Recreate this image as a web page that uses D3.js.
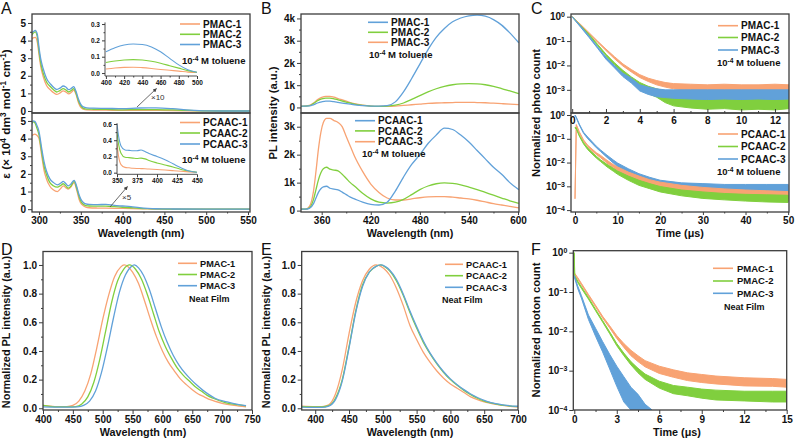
<!DOCTYPE html>
<html><head><meta charset="utf-8">
<script src="https://cdn.jsdelivr.net/npm/d3@7"></script>
<style>body{margin:0;background:#fff}svg text{font-family:"Liberation Sans",Arial,sans-serif}</style>
</head><body><svg id="c" width="795" height="441"></svg>
<script>
// ---------------- DATA ----------------
// Panel A top (PMAC absorption)
const A_WL_T = [291, 293, 295.5, 298, 300, 302, 305, 309, 314, 318, 321, 325, 329, 332, 335.5, 339, 341.5, 344, 347, 350, 353, 357, 365, 380, 400, 420, 440, 460, 480, 500, 520, 552];
const A_PMAC1 = [4.05, 4.15, 4.18, 3.9, 3.2, 2.55, 1.95, 1.45, 1.18, 1.02, 0.94, 1.02, 1.14, 1.08, 0.97, 1.08, 1.18, 0.98, 0.5, 0.2, 0.1, 0.06, 0.05, 0.045, 0.03, 0.035, 0.033, 0.022, 0.012, 0.003, 0, 0];
const A_PMAC2 = [4.3, 4.42, 4.5, 4.2, 3.4, 2.75, 2.15, 1.65, 1.36, 1.18, 1.08, 1.16, 1.27, 1.2, 1.08, 1.18, 1.27, 1.05, 0.6, 0.3, 0.15, 0.11, 0.1, 0.09, 0.065, 0.08, 0.08, 0.06, 0.03, 0.005, 0, 0];
const A_PMAC3 = [4.45, 4.5, 4.58, 4.35, 3.6, 2.97, 2.4, 1.85, 1.52, 1.32, 1.22, 1.3, 1.42, 1.36, 1.21, 1.3, 1.38, 1.15, 0.7, 0.38, 0.23, 0.18, 0.16, 0.15, 0.13, 0.17, 0.175, 0.13, 0.05, 0.005, 0, 0];
// Inset A top (x10)
const AI_WL_T = [400, 410, 420, 430, 440, 450, 460, 470, 480, 490, 500];
const AI_PMAC1 = [0.025, 0.031, 0.035, 0.036, 0.033, 0.028, 0.022, 0.017, 0.012, 0.006, 0.003];
const AI_PMAC2 = [0.065, 0.074, 0.08, 0.082, 0.08, 0.072, 0.06, 0.045, 0.03, 0.015, 0.005];
const AI_PMAC3 = [0.13, 0.155, 0.172, 0.178, 0.175, 0.16, 0.13, 0.09, 0.05, 0.02, 0.005];
// Panel A bottom (PCAAC absorption)
const A_WL_B = [291, 293, 295, 297, 300, 303, 306, 309, 313, 317, 322, 326, 329, 332, 335, 338, 342, 345, 348, 350, 353, 356, 360, 370, 380, 390, 400, 410, 420, 430, 440, 460, 500, 552];
const A_PCAAC1 = [4.15, 4.22, 4.25, 4.2, 4.0, 3.1, 2.2, 1.7, 1.3, 1.1, 1.0, 1.18, 1.32, 1.22, 1.14, 1.25, 1.51, 1.1, 0.55, 0.34, 0.2, 0.12, 0.08, 0.065, 0.06, 0.05, 0.04, 0.03, 0.02, 0.012, 0.006, 0.002, 0, 0];
const A_PCAAC2 = [4.85, 4.95, 4.9, 4.65, 4.2, 3.3, 2.45, 1.95, 1.5, 1.33, 1.25, 1.35, 1.44, 1.32, 1.19, 1.3, 1.57, 1.2, 0.7, 0.45, 0.28, 0.2, 0.18, 0.17, 0.17, 0.14, 0.11, 0.08, 0.05, 0.03, 0.015, 0.005, 0, 0];
const A_PCAAC3 = [4.8, 5.0, 4.98, 4.8, 4.4, 3.5, 2.7, 2.15, 1.72, 1.52, 1.38, 1.48, 1.57, 1.45, 1.32, 1.42, 1.63, 1.3, 0.8, 0.57, 0.38, 0.3, 0.27, 0.26, 0.27, 0.22, 0.18, 0.14, 0.09, 0.05, 0.025, 0.01, 0, 0];
// Inset A bottom (x5)
const AI_WL_B = [350, 352, 355, 360, 365, 370, 375, 380, 385, 390, 400, 410, 420, 430, 440, 450];
const AI_PCAAC1 = [0.36, 0.2, 0.1, 0.065, 0.06, 0.055, 0.052, 0.05, 0.048, 0.045, 0.04, 0.033, 0.025, 0.017, 0.01, 0.003];
const AI_PCAAC2 = [0.5, 0.35, 0.24, 0.19, 0.185, 0.18, 0.175, 0.18, 0.17, 0.15, 0.12, 0.095, 0.07, 0.04, 0.02, 0.005];
const AI_PCAAC3 = [0.6, 0.45, 0.33, 0.28, 0.275, 0.27, 0.27, 0.28, 0.26, 0.235, 0.2, 0.16, 0.11, 0.06, 0.02, 0.005];
// Panel B top (PL, PMAC)
const B_WL_T = [335, 345, 350, 355, 360, 365, 370, 375, 380, 390, 400, 410, 420, 430, 440, 450, 460, 470, 480, 490, 500, 510, 520, 530, 540, 550, 560, 570, 580, 590, 601];
const B_PMAC1 = [0.06, 0.07, 0.12, 0.2, 0.25, 0.28, 0.28, 0.26, 0.23, 0.17, 0.12, 0.08, 0.06, 0.06, 0.08, 0.25, 0.7, 1.3, 1.95, 2.6, 3.15, 3.55, 3.85, 4.02, 4.12, 4.15, 4.1, 3.95, 3.7, 3.35, 2.9];
const B_PMAC2 = [0.05, 0.08, 0.18, 0.3, 0.38, 0.42, 0.42, 0.39, 0.34, 0.24, 0.15, 0.09, 0.06, 0.05, 0.06, 0.1, 0.2, 0.36, 0.53, 0.7, 0.84, 0.95, 1.02, 1.06, 1.07, 1.06, 1.02, 0.95, 0.85, 0.74, 0.62];
const B_PMAC3 = [0.05, 0.09, 0.2, 0.35, 0.45, 0.5, 0.5, 0.46, 0.4, 0.28, 0.17, 0.1, 0.06, 0.05, 0.05, 0.06, 0.09, 0.12, 0.15, 0.18, 0.2, 0.21, 0.22, 0.23, 0.23, 0.22, 0.21, 0.19, 0.17, 0.15, 0.13];
// Panel B bottom (PL, PCAAC)
const B_WL_B = [335, 340, 345, 350, 353, 356, 359, 362, 366, 370, 375, 380, 385, 390, 395, 400, 410, 420, 430, 440, 450, 460, 470, 480, 490, 500, 510, 520, 530, 540, 550, 560, 570, 580, 590, 601];
const B_PCAAC1 = [0.05, 0.05, 0.08, 0.25, 0.45, 0.65, 0.78, 0.85, 0.87, 0.8, 0.77, 0.74, 0.66, 0.57, 0.48, 0.42, 0.3, 0.22, 0.2, 0.3, 0.7, 1.2, 1.65, 2.0, 2.4, 2.7, 2.95, 2.9, 2.7, 2.45, 2.15, 1.85, 1.55, 1.3, 1.0, 0.75];
const B_PCAAC2 = [0.05, 0.05, 0.1, 0.4, 0.75, 1.1, 1.35, 1.5, 1.55, 1.48, 1.45, 1.42, 1.3, 1.15, 1.0, 0.88, 0.62, 0.42, 0.3, 0.27, 0.3, 0.4, 0.57, 0.75, 0.88, 0.96, 0.99, 0.97, 0.92, 0.84, 0.75, 0.65, 0.55, 0.45, 0.35, 0.26];
const B_PCAAC3 = [0.05, 0.05, 0.15, 0.7, 1.4, 2.2, 2.8, 3.15, 3.3, 3.3, 3.22, 3.15, 3.0, 2.65, 2.3, 1.95, 1.4, 0.95, 0.65, 0.45, 0.38, 0.38, 0.42, 0.46, 0.49, 0.5, 0.5, 0.48, 0.45, 0.42, 0.37, 0.31, 0.25, 0.2, 0.15, 0.1];
// Panel C top (decay, PMAC, toluene) : time and noise band low/high
const C_T_T = [0, 0.5, 1, 1.5, 2, 2.5, 3, 3.5, 4, 4.5, 5, 5.5, 6, 7, 8, 9, 10, 11, 12, 12.85];
const C_PMAC1_LO = [0.97, 0.44, 0.2, 0.09, 0.041, 0.019, 0.0095, 0.0054, 0.0032, 0.0022, 0.0016, 0.0013, 0.0011, 0.00095, 0.00082, 0.0008, 0.00075, 0.0008, 0.00075, 0.0008];
const C_PMAC1_HI = [1.0, 0.48, 0.22, 0.1, 0.047, 0.023, 0.0116, 0.0068, 0.0042, 0.003, 0.0024, 0.002, 0.0018, 0.0017, 0.0016, 0.0017, 0.0016, 0.0016, 0.0017, 0.0016];
const C_PMAC2_LO = [0.97, 0.4, 0.17, 0.066, 0.025, 0.011, 0.0049, 0.0025, 0.0012, 0.0007, 0.0005, 0.0003, 0.00022, 0.00018, 0.00016, 0.00017, 0.00015, 0.00016, 0.00015, 0.00017];
const C_PMAC2_HI = [1.0, 0.44, 0.19, 0.074, 0.029, 0.013, 0.0063, 0.0034, 0.002, 0.0014, 0.0011, 0.0009, 0.00075, 0.00065, 0.00062, 0.00063, 0.0006, 0.00062, 0.0006, 0.00063];
const C_PMAC3_LO = [0.97, 0.37, 0.14, 0.051, 0.018, 0.008, 0.0035, 0.0019, 0.0009, 0.00065, 0.00052, 0.00048, 0.00045, 0.00042, 0.0004, 0.00042, 0.0004, 0.00042, 0.0004, 0.00042];
const C_PMAC3_HI = [1.0, 0.41, 0.16, 0.059, 0.022, 0.01, 0.0048, 0.003, 0.0016, 0.0013, 0.0011, 0.001, 0.001, 0.001, 0.001, 0.001, 0.001, 0.001, 0.001, 0.001];
// Panel C bottom (decay, PCAAC, toluene)
const C_T_B = [0, 0.3, 1, 2, 3, 4, 5, 6, 7.5, 9, 10, 12.5, 15, 17.5, 20, 25, 30, 35, 40, 45, 50];
const C_PCAAC1_LO = [0.0003, 0.36, 0.18, 0.08, 0.047, 0.031, 0.022, 0.016, 0.0095, 0.006, 0.0045, 0.0025, 0.0015, 0.001, 0.00075, 0.0005, 0.0004, 0.00033, 0.0003, 0.00026, 0.00024];
const C_PCAAC1_HI = [0.0003, 0.4, 0.2, 0.09, 0.053, 0.037, 0.026, 0.02, 0.0125, 0.0082, 0.0065, 0.004, 0.0027, 0.0019, 0.0015, 0.0011, 0.0009, 0.00078, 0.0007, 0.00065, 0.0006];
const C_PCAAC2_LO = [0.28, 0.26, 0.13, 0.061, 0.035, 0.023, 0.0155, 0.011, 0.0066, 0.0043, 0.0032, 0.0018, 0.0011, 0.0008, 0.00058, 0.0004, 0.00031, 0.00027, 0.00024, 0.00022, 0.00021];
const C_PCAAC2_HI = [0.3, 0.29, 0.145, 0.069, 0.041, 0.027, 0.0185, 0.013, 0.0084, 0.0057, 0.0044, 0.0027, 0.0018, 0.0013, 0.00098, 0.0007, 0.00058, 0.0005, 0.00046, 0.00044, 0.00042];
const C_PCAAC3_LO = [0.97, 0.76, 0.38, 0.17, 0.1, 0.065, 0.042, 0.029, 0.0165, 0.0095, 0.0066, 0.0035, 0.0019, 0.0012, 0.0008, 0.00055, 0.00042, 0.00035, 0.0003, 0.0003, 0.0003];
const C_PCAAC3_HI = [1.0, 0.82, 0.42, 0.19, 0.118, 0.076, 0.049, 0.034, 0.0205, 0.0128, 0.0095, 0.0055, 0.0034, 0.0024, 0.0018, 0.0014, 0.0013, 0.0012, 0.0012, 0.0012, 0.0012];
// Panel D (neat film PL, PMAC) – each series read at its own wavelengths
const D_WL1 = [400, 420, 440, 450, 460, 470, 480, 490, 500, 510, 520, 530, 536, 542, 550, 560, 570, 580, 590, 600, 610, 620, 630, 640, 650, 660, 670, 680, 700, 720, 740];
const D_PMAC1 = [0.02, 0.012, 0.012, 0.02, 0.05, 0.12, 0.24, 0.42, 0.62, 0.79, 0.92, 0.985, 1.0, 0.99, 0.95, 0.87, 0.75, 0.62, 0.5, 0.4, 0.32, 0.26, 0.205, 0.165, 0.13, 0.1, 0.08, 0.06, 0.035, 0.02, 0.01];
const D_WL2 = [400, 420, 440, 455, 465, 475, 485, 495, 505, 515, 525, 535, 545, 555, 565, 575, 585, 595, 605, 615, 625, 635, 645, 655, 665, 675, 685, 705, 725, 740];
const D_PMAC2 = [0.02, 0.01, 0.01, 0.012, 0.03, 0.08, 0.18, 0.34, 0.54, 0.74, 0.89, 0.97, 1.0, 0.97, 0.9, 0.79, 0.66, 0.53, 0.43, 0.35, 0.28, 0.23, 0.19, 0.15, 0.12, 0.09, 0.07, 0.04, 0.025, 0.017];
const D_WL3 = [400, 420, 440, 458, 468, 478, 488, 498, 508, 518, 528, 538, 548, 553, 560, 568, 578, 588, 598, 608, 618, 628, 638, 648, 658, 668, 678, 688, 708, 728, 740];
const D_PMAC3 = [0.01, 0.008, 0.008, 0.01, 0.02, 0.05, 0.12, 0.25, 0.43, 0.63, 0.81, 0.93, 0.99, 1.0, 0.98, 0.93, 0.83, 0.7, 0.57, 0.46, 0.37, 0.3, 0.245, 0.2, 0.16, 0.125, 0.095, 0.07, 0.045, 0.025, 0.018];
// Panel E (neat film PL, PCAAC)
const E_WL = [380, 400, 410, 420, 430, 440, 450, 460, 470, 480, 490, 497, 505, 510, 520, 530, 540, 550, 560, 570, 580, 590, 600, 610, 620, 630, 640, 650, 660, 670, 680, 700];
const E_PCAAC1 = [0.015, 0.012, 0.012, 0.025, 0.1, 0.27, 0.52, 0.74, 0.89, 0.97, 1.0, 0.99, 0.96, 0.93, 0.84, 0.72, 0.58, 0.48, 0.39, 0.32, 0.26, 0.21, 0.17, 0.14, 0.11, 0.08, 0.06, 0.045, 0.035, 0.025, 0.018, 0.01];
const E_PCAAC2 = [0.012, 0.01, 0.01, 0.018, 0.07, 0.2, 0.43, 0.68, 0.86, 0.95, 0.99, 1.0, 0.98, 0.96, 0.89, 0.79, 0.67, 0.56, 0.46, 0.38, 0.31, 0.25, 0.2, 0.16, 0.125, 0.095, 0.07, 0.05, 0.038, 0.028, 0.02, 0.012];
const E_PCAAC3 = [0.008, 0.006, 0.006, 0.015, 0.06, 0.19, 0.42, 0.67, 0.85, 0.95, 0.99, 1.0, 0.985, 0.965, 0.9, 0.8, 0.68, 0.57, 0.47, 0.385, 0.315, 0.255, 0.205, 0.165, 0.13, 0.1, 0.075, 0.055, 0.04, 0.03, 0.022, 0.014];
// Panel F (decay, neat film, PMAC)
const F_T1 = [0, 0.25, 0.5, 1, 1.5, 2, 2.5, 3, 3.5, 4, 4.5, 5, 6, 7, 8, 9, 10, 12, 14, 15];
const F_PMAC1_LO = [0.29, 0.21, 0.153, 0.079, 0.042, 0.0218, 0.0122, 0.0066, 0.0039, 0.0024, 0.0017, 0.00125, 0.00085, 0.00068, 0.00056, 0.0005, 0.00046, 0.00041, 0.0004, 0.00038];
const F_PMAC1_HI = [0.31, 0.23, 0.167, 0.087, 0.046, 0.0242, 0.0138, 0.0078, 0.0049, 0.0033, 0.0024, 0.0018, 0.0013, 0.00105, 0.00088, 0.0008, 0.00073, 0.00066, 0.00063, 0.0006];
const F_T2 = [0, 0.03, 0.25, 0.5, 1, 1.5, 2, 2.5, 3, 3.5, 4, 4.5, 5, 6, 7, 8, 9, 10, 12, 14, 15];
const F_PMAC2_LO = [0.95, 0.24, 0.172, 0.124, 0.066, 0.0335, 0.0172, 0.0087, 0.0043, 0.0024, 0.0014, 0.00088, 0.0006, 0.00036, 0.00026, 0.00023, 0.0002, 0.00018, 0.00017, 0.00016, 0.00016];
const F_PMAC2_HI = [1.0, 0.26, 0.188, 0.136, 0.072, 0.0365, 0.0188, 0.0097, 0.0049, 0.0028, 0.0017, 0.00115, 0.00082, 0.00054, 0.00042, 0.00038, 0.00034, 0.00032, 0.0003, 0.0003, 0.0003];
const F_T3 = [0, 0.25, 0.5, 1, 1.5, 2, 2.5, 3, 3.5, 4, 4.5, 5, 5.5];
const F_PMAC3_LO = [0.24, 0.12, 0.07, 0.02, 0.0075, 0.003, 0.0011, 0.0004, 0.00016, 0.0001, 0.00008, 0.00006, 0.00005];
const F_PMAC3_HI = [0.26, 0.14, 0.082, 0.026, 0.012, 0.0055, 0.0026, 0.0013, 0.0007, 0.00038, 0.00025, 0.00014, 0.0001];

// ---------------- STYLE ----------------
const ORANGE = '#f8a373', GREEN = '#80cf3e', BLUE = '#61a1d9';
const FRAME = '#3c3c3c', TXT = '#111';
const XT = 10.8, YT = 10.9;
const svg = d3.select('#c');
let clipN = 0;

function frame(x0, y0, x1, y1) {
  svg.append('rect').attr('x', x0).attr('y', y0).attr('width', x1 - x0).attr('height', y1 - y0)
    .attr('fill', 'none').attr('stroke', FRAME).attr('stroke-width', 1.3);
}
function clip(x0, y0, x1, y1) {
  const id = 'cl' + (clipN++);
  svg.append('clipPath').attr('id', id).append('rect').attr('x', x0).attr('y', y0).attr('width', x1 - x0).attr('height', y1 - y0);
  return svg.append('g').attr('clip-path', `url(#${id})`);
}
function styleAxis(g, fs) {
  g.select('.domain').remove();
  g.selectAll('line').attr('stroke', FRAME).attr('stroke-width', 1);
  g.selectAll('text').attr('font-size', fs).attr('font-weight', 'bold').attr('fill', TXT)
    .attr('font-family', '"Liberation Sans", Arial, sans-serif');
}
function axisLeft(scale, x, major, minor, fmt, fs = 10, size = 4) {
  const g = svg.append('g').attr('transform', `translate(${x},0)`)
    .call(d3.axisLeft(scale).tickValues(major).tickSize(size).tickPadding(2).tickFormat(fmt));
  styleAxis(g, fs);
  if (minor) {
    const m = svg.append('g').attr('transform', `translate(${x},0)`)
      .call(d3.axisLeft(scale).tickValues(minor).tickSize(size / 2).tickFormat(''));
    styleAxis(m, fs);
  }
  return g;
}
function axisBottom(scale, y, major, minor, fmt, fs = 10, size = 4, pad = 2) {
  const g = svg.append('g').attr('transform', `translate(0,${y})`)
    .call(d3.axisBottom(scale).tickValues(major).tickSize(size).tickPadding(pad).tickFormat(fmt));
  styleAxis(g, fs);
  if (minor) {
    const m = svg.append('g').attr('transform', `translate(0,${y})`)
      .call(d3.axisBottom(scale).tickValues(minor).tickSize(size / 2).tickFormat(''));
    styleAxis(m, fs);
  }
  return g;
}
function logLabels(g) {
  g.selectAll('.tick text').each(function (d) {
    const t = d3.select(this); t.text(null);
    const e = Math.round(Math.log10(d));
    t.append('tspan').text('10');
    t.append('tspan').attr('baseline-shift', 'super').attr('font-size', 7).text(e === 0 ? '0' : '\u2212' + (-e));
  });
}
function rich(x, y, parts, fs, anchor = 'start', weight = 'bold', rot = 0) {
  const t = svg.append('text').attr('font-size', fs).attr('font-weight', weight).attr('fill', TXT)
    .attr('text-anchor', anchor)
    .attr('transform', `translate(${x},${y}) rotate(${rot})`);
  parts.forEach(p => {
    const s = t.append('tspan').text(p[0]);
    if (p[1] === 'sup') s.attr('baseline-shift', 'super').attr('font-size', fs * 0.7);
  });
  return t;
}
function xTitle(x, y, s) {
  svg.append('text').attr('x', x).attr('y', y).attr('text-anchor', 'middle').attr('font-size', XT)
    .attr('font-weight', 'bold').attr('fill', TXT).text(s);
}
function lineSeries(g, xs, ys, sx, sy, color, w = 1.3) {
  const data = xs.map((x, i) => [x, ys[i]]);
  g.append('path').datum(data).attr('fill', 'none').attr('stroke', color).attr('stroke-width', w)
    .attr('stroke-linejoin', 'round')
    .attr('d', d3.line().x(d => sx(d[0])).y(d => sy(d[1])).curve(d3.curveMonotoneX));
}
function bandSeries(g, xs, lo, hi, sx, sy, color) {
  const data = xs.map((x, i) => [x, lo[i], hi[i]]);
  g.append('path').datum(data).attr('fill', color).attr('stroke', color).attr('stroke-width', 1)
    .attr('d', d3.area().x(d => sx(d[0])).y0(d => sy(d[1])).y1(d => sy(d[2])));
}
function legend(x1, x2, tx, ys, names, colors, fs) {
  names.forEach((n, i) => {
    svg.append('line').attr('x1', x1).attr('x2', x2).attr('y1', ys[i]).attr('y2', ys[i])
      .attr('stroke', colors[i]).attr('stroke-width', 1.6);
    svg.append('text').attr('x', tx).attr('y', ys[i] + fs * 0.36).attr('font-size', fs).attr('font-weight', 'bold')
      .attr('fill', TXT).text(n);
  });
}
const toluene = (x, y, fs = 9.5) => rich(x, y + fs * 0.36, [['10'], ['-4', 'sup'], [' M toluene']], fs);
function panelLetter(x, y, s) {
  svg.append('text').attr('x', x).attr('y', y).attr('font-size', 16).attr('fill', TXT).text(s);
}
const r = (a, b, s) => d3.range(a, b + 1e-9, s);
const BOT = 212;

// ---------------- PANEL A ----------------
const xA = d3.scaleLinear([291.6, 552.4], [32, 250]);
const yAt = d3.scaleLinear([-0.114, 5.51], [113, 14]);
const yAb = d3.scaleLinear([-0.16, 5.45], [BOT, 113]);
{
  const gt = clip(32, 14, 250, 113);
  [[A_PMAC1, ORANGE], [A_PMAC2, GREEN], [A_PMAC3, BLUE]].forEach(([v, c]) => lineSeries(gt, A_WL_T, v, xA, yAt, c));
  const gb = clip(32, 113, 250, BOT);
  [[A_PCAAC1, ORANGE], [A_PCAAC2, GREEN], [A_PCAAC3, BLUE]].forEach(([v, c]) => lineSeries(gb, A_WL_B, v, xA, yAb, c));
  frame(32, 14, 250, 113); frame(32, 113, 250, BOT);
  axisLeft(yAt, 32, r(0, 5, 1), r(0.5, 5, 1), d3.format('d'));
  axisLeft(yAb, 32, r(0, 5, 1), r(0.5, 5, 1), d3.format('d'));
  axisBottom(xA, BOT, r(300, 550, 50), r(325, 525, 50), d3.format('d'), 10, 3, 1.5);
  // inset top
  const xIt = d3.scaleLinear([399, 500], [105, 197]);
  const yIt = d3.scaleLinear([-0.018, 0.31], [76, 22.4]);
  const gi = clip(105, 22, 197, 76);
  [[AI_PMAC1, ORANGE], [AI_PMAC2, GREEN], [AI_PMAC3, BLUE]].forEach(([v, c]) => lineSeries(gi, AI_WL_T, v, xIt, yIt, c, 1.1));
  svg.append('path').attr('d', 'M105,22.4V76H197').attr('fill', 'none').attr('stroke', FRAME).attr('stroke-width', 0.9);
  axisLeft(yIt, 105, [0, 0.1, 0.2, 0.3], [0.05, 0.15, 0.25], d3.format('.1f'), 6.5, 3);
  axisBottom(xIt, 76, r(400, 500, 20), r(410, 490, 20), d3.format('d'), 6.5, 3, 1);
  // inset bottom
  const xIb = d3.scaleLinear([350, 450], [117, 197]);
  const yIb = d3.scaleLinear([-0.02, 0.61], [174.3, 123.2]);
  const gj = clip(117, 123, 197, 174.3);
  [[AI_PCAAC1, ORANGE], [AI_PCAAC2, GREEN], [AI_PCAAC3, BLUE]].forEach(([v, c]) => lineSeries(gj, AI_WL_B, v, xIb, yIb, c, 1.1));
  svg.append('path').attr('d', 'M117,123.2V174.3H197').attr('fill', 'none').attr('stroke', FRAME).attr('stroke-width', 0.9);
  axisLeft(yIb, 117, [0, 0.2, 0.4, 0.6], [0.1, 0.3, 0.5], d3.format('.1f'), 6.5, 3);
  axisBottom(xIb, 174.3, r(350, 450, 25), null, d3.format('d'), 6.5, 3, 1);
  // arrows
  const defs = svg.append('defs');
  defs.append('marker').attr('id', 'ah').attr('viewBox', '0 0 10 10').attr('refX', 9).attr('refY', 5)
    .attr('markerWidth', 5).attr('markerHeight', 5).attr('orient', 'auto')
    .append('path').attr('d', 'M0,0L10,5L0,10z').attr('fill', '#444');
  svg.append('line').attr('x1', 137).attr('y1', 107).attr('x2', 156.5).attr('y2', 88.5).attr('stroke', '#444').attr('stroke-width', 0.8).attr('marker-end', 'url(#ah)');
  svg.append('line').attr('x1', 110).attr('y1', 207).attr('x2', 127.5).attr('y2', 186.5).attr('stroke', '#444').attr('stroke-width', 0.8).attr('marker-end', 'url(#ah)');
  svg.append('text').attr('x', 151).attr('y', 100).attr('font-size', 8).attr('fill', '#333').text('\u00d710');
  svg.append('text').attr('x', 122).attr('y', 200).attr('font-size', 8).attr('fill', '#333').text('\u00d75');
  legend(180, 200, 203, [24, 34.3, 44.5], ['PMAC-1', 'PMAC-2', 'PMAC-3'], [ORANGE, GREEN, BLUE], 10);
  toluene(182, 61);
  legend(180, 200, 203, [122.5, 133, 144], ['PCAAC-1', 'PCAAC-2', 'PCAAC-3'], [ORANGE, GREEN, BLUE], 10);
  toluene(182, 160);
  rich(10, 114, [['\u03b5 (\u00d7 10'], ['4', 'sup'], [' dm'], ['3', 'sup'], [' mol'], ['-1', 'sup'], [' cm'], ['-1', 'sup'], [')']], 11.8, 'middle', 'bold', -90);
  xTitle(141, 236.5, 'Wavelength (nm)');
  panelLetter(1, 14, 'A');
}

// ---------------- PANEL B ----------------
const xB = d3.scaleLinear([334.7, 601.2], [301, 519]);
const yBt = d3.scaleLinear([-0.25, 4.2], [113, 14]);
const yBb = d3.scaleLinear([-0.05, 3.49], [BOT, 113]);
{
  const gt = clip(301, 14, 519, 113);
  [[B_PMAC3, ORANGE], [B_PMAC2, GREEN], [B_PMAC1, BLUE]].forEach(([v, c]) => lineSeries(gt, B_WL_T, v, xB, yBt, c));
  const gb = clip(301, 113, 519, BOT);
  [[B_PCAAC3, ORANGE], [B_PCAAC2, GREEN], [B_PCAAC1, BLUE]].forEach(([v, c]) => lineSeries(gb, B_WL_B, v, xB, yBb, c));
  frame(301, 14, 519, 113); frame(301, 113, 519, BOT);
  const kf = d => d === 0 ? '0' : d + 'k';
  axisLeft(yBt, 301, r(0, 4, 1), r(0.5, 4, 1), kf);
  axisLeft(yBb, 301, r(0, 3, 1), r(0.5, 3, 1), kf);
  axisBottom(xB, BOT, r(360, 600, 60), r(390, 570, 60), d3.format('d'), 10, 3, 1.5);
  legend(368, 388, 391, [22.3, 32.3, 42.3], ['PMAC-1', 'PMAC-2', 'PMAC-3'], [BLUE, GREEN, ORANGE], 10);
  toluene(369, 55);
  legend(355, 375, 378, [120.7, 130.9, 141.7], ['PCAAC-1', 'PCAAC-2', 'PCAAC-3'], [BLUE, GREEN, ORANGE], 10);
  toluene(362, 154);
  rich(277, 113, [['PL intensity (a.u.)']], 11.2, 'middle', 'bold', -90);
  xTitle(410, 236.5, 'Wavelength (nm)');
  panelLetter(261, 14, 'B');
}

// ---------------- PANEL C ----------------
const xCt = d3.scaleLinear([-0.07, 12.83], [571, 789]);
const yCt = d3.scaleLog([Math.pow(10, -3.95), Math.pow(10, 0.11)], [113, 14]);
const xCb = d3.scaleLinear([-0.94, 50.2], [571, 789]);
const yCb = d3.scaleLog([Math.pow(10, -4.08), Math.pow(10, 0.085)], [BOT, 113]);
{
  const gt = clip(571, 14, 789, 113);
  bandSeries(gt, C_T_T, C_PMAC1_LO, C_PMAC1_HI, xCt, yCt, ORANGE);
  bandSeries(gt, C_T_T, C_PMAC2_LO, C_PMAC2_HI, xCt, yCt, GREEN);
  bandSeries(gt, C_T_T, C_PMAC3_LO, C_PMAC3_HI, xCt, yCt, BLUE);
  const gb = clip(571, 113, 789, BOT);
  bandSeries(gb, C_T_B, C_PCAAC3_LO, C_PCAAC3_HI, xCb, yCb, BLUE);
  bandSeries(gb, C_T_B, C_PCAAC1_LO, C_PCAAC1_HI, xCb, yCb, ORANGE);
  bandSeries(gb, C_T_B, C_PCAAC2_LO, C_PCAAC2_HI, xCb, yCb, GREEN);
  frame(571, 14, 789, 113); frame(571, 113, 789, BOT);
  logLabels(axisLeft(yCt, 571, [1, 0.1, 0.01, 0.001], null, d => d));
  logLabels(axisLeft(yCb, 571, [1, 0.1, 0.01, 0.001, 0.0001], null, d => d));
  axisBottom(xCt, 113, r(0, 12, 2), r(1, 12, 2), d3.format('d'), 10, -4, 4);
  axisBottom(xCb, BOT, r(0, 50, 10), r(5, 45, 10), d3.format('d'), 10, 3, 1.5);
  legend(718, 738, 741, [25.7, 37.5, 50], ['PMAC-1', 'PMAC-2', 'PMAC-3'], [ORANGE, GREEN, BLUE], 10);
  toluene(717, 62.3);
  legend(718, 738, 741, [134, 146.5, 159], ['PCAAC-1', 'PCAAC-2', 'PCAAC-3'], [ORANGE, GREEN, BLUE], 10);
  toluene(717, 171.7);
  rich(540, 113, [['Normalized photo count']], 11.2, 'middle', 'bold', -90);
  xTitle(680, 236.5, 'Time (\u03bcs)');
  panelLetter(531, 14, 'C');
}

// ---------------- PANEL D ----------------
const xD = d3.scaleLinear([400, 750], [43, 252]);
const yD = d3.scaleLinear([-0.012, 1.094], [410, 251.5]);
{
  const g = clip(43, 251.5, 252, 410);
  [[D_WL1, D_PMAC1, ORANGE], [D_WL2, D_PMAC2, GREEN], [D_WL3, D_PMAC3, BLUE]].forEach(([w, v, c]) => lineSeries(g, w, v, xD, yD, c));
  frame(43, 251.5, 252, 410);
  axisLeft(yD, 43, r(0, 1, 0.2), r(0.1, 1, 0.2), d3.format('.1f'));
  axisBottom(xD, 410, r(400, 750, 50), r(425, 725, 50), d3.format('d'));
  legend(178, 197, 200, [263.3, 274.5, 285.7], ['PMAC-1', 'PMAC-2', 'PMAC-3'], [ORANGE, GREEN, BLUE], 9.2);
  svg.append('text').attr('x', 189).attr('y', 301.5).attr('font-size', 9).attr('font-weight', 'bold').attr('fill', TXT).text('Neat Film');
  rich(10, 332, [['Normalized PL intensity (a.u.)']], YT, 'middle', 'bold', -90);
  xTitle(143, 436, 'Wavelength (nm)');
  panelLetter(1, 255, 'D');
}

// ---------------- PANEL E ----------------
const xE = d3.scaleLinear([380, 700], [301.7, 518]);
const yE = d3.scaleLinear([-0.012, 1.094], [410, 251.5]);
{
  const g = clip(301.7, 251.5, 518, 410);
  [[E_PCAAC1, ORANGE], [E_PCAAC2, GREEN], [E_PCAAC3, BLUE]].forEach(([v, c]) => lineSeries(g, E_WL, v, xE, yE, c));
  frame(301.7, 251.5, 518, 410);
  axisLeft(yE, 301.7, r(0, 1, 0.2), r(0.1, 1, 0.2), d3.format('.1f'));
  axisBottom(xE, 410, r(400, 700, 50), r(425, 675, 50), d3.format('d'));
  legend(445, 463, 466, [264.3, 275.7, 287.3], ['PCAAC-1', 'PCAAC-2', 'PCAAC-3'], [ORANGE, GREEN, BLUE], 9.2);
  svg.append('text').attr('x', 442).attr('y', 303.2).attr('font-size', 9).attr('font-weight', 'bold').attr('fill', TXT).text('Neat Film');
  rich(270, 332, [['Normalized PL intensity (a.u.)']], YT, 'middle', 'bold', -90);
  xTitle(410, 436, 'Wavelength (nm)');
  panelLetter(261, 255, 'E');
}

// ---------------- PANEL F ----------------
const xF = d3.scaleLinear([-0.07, 15], [573.3, 786.7]);
const yF = d3.scaleLog([1e-4, Math.pow(10, 0.05)], [410, 250.7]);
{
  const g = clip(573.3, 250.7, 786.7, 410);
  bandSeries(g, F_T1, F_PMAC1_LO, F_PMAC1_HI, xF, yF, ORANGE);
  bandSeries(g, F_T2, F_PMAC2_LO, F_PMAC2_HI, xF, yF, GREEN);
  bandSeries(g, F_T3, F_PMAC3_LO, F_PMAC3_HI, xF, yF, BLUE);
  frame(573.3, 250.7, 786.7, 410);
  logLabels(axisLeft(yF, 573.3, [1, 0.1, 0.01, 0.001, 0.0001], null, d => d));
  axisBottom(xF, 410, r(0, 15, 3), r(1.5, 13.5, 3), d3.format('d'));
  legend(713, 733, 737, [268.3, 281, 293.3], ['PMAC-1', 'PMAC-2', 'PMAC-3'], [ORANGE, GREEN, BLUE], 9.5);
  svg.append('text').attr('x', 724).attr('y', 310).attr('font-size', 9).attr('font-weight', 'bold').attr('fill', TXT).text('Neat Film');
  rich(540, 330, [['Normalized photon count']], 11.2, 'middle', 'bold', -90);
  xTitle(677, 436, 'Time (\u03bcs)');
  panelLetter(531, 255, 'F');
}
</script></body></html>
